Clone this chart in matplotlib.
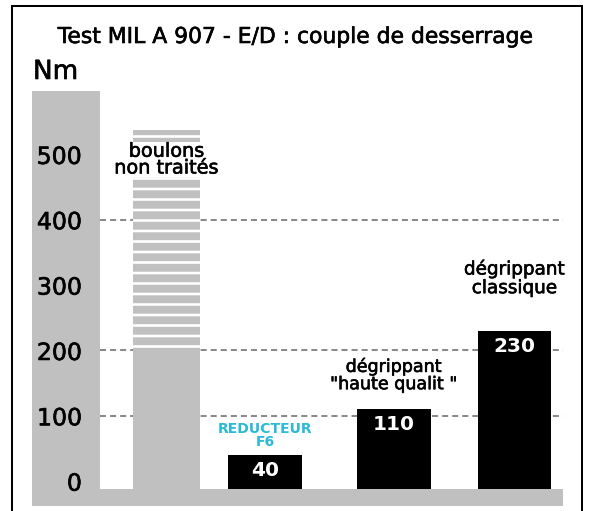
import matplotlib
matplotlib.use('Agg')
import matplotlib.pyplot as plt
import matplotlib.patheffects as pe
from matplotlib.patches import Rectangle
import numpy as np

# data
categories = ['boulons\nnon traités', 'REDUCTEUR\nF6', 'dégrippant\n"haute qualit "', 'dégrippant\nclassique']
values = [200, 40, 110, 230]          # boulons: solid part (200), striped up to ~537
boulons_top = 537
bar_labels = ['', '40', '110', '230']
yticks = [0, 100, 200, 300, 400, 500]
grid_levels = [100, 200, 400]

# layout
x_pos = np.array([0, 0.849, 1.961, 2.998])
widths = [0.58, 0.64, 0.64, 0.63]
base = -12
GRAY = '#c0c0c0'
CYAN = '#2bbad8'
DPI = 63

plt.rcParams['font.family'] = ['DejaVu Sans']
plt.rcParams['hatch.linewidth'] = 9

thick = [pe.withStroke(linewidth=0.7, foreground='black')]

fig = plt.figure(figsize=(590 / DPI, 511 / DPI), dpi=DPI)
ax = fig.add_axes([32 / 590, 5 / 511, (563 - 32) / 590, (506 - 91) / 511])
ax.set_xlim(-1.159, 3.418)
ax.set_ylim(-38, 597)

# grey axis column and bottom band
ax.axvspan(-1.159, -0.573, color=GRAY, lw=0, zorder=0)
ax.axhspan(-38, base, color=GRAY, lw=0, zorder=0)

# dashed reference lines
ax.hlines(grid_levels, -0.573, 3.418, colors='#8a8a8a', linestyles=(0, (3, 2)), lw=2.3, zorder=0.5)

# bars
vals = np.array(values)
ax.bar(x_pos[0], vals[0] - base, bottom=base, width=widths[0], color=GRAY, lw=0, zorder=2)
ax.bar(x_pos[0], boulons_top - vals[0], bottom=vals[0], width=widths[0], color='white',
       edgecolor=GRAY, hatch='-', lw=0, zorder=2)
ax.bar(x_pos[1:], vals[1:] - base, bottom=base, width=widths[1:], color='black', lw=0, zorder=2)

# value labels inside black bars
for xp, v, lab in zip(x_pos[1:], vals[1:], bar_labels[1:]):
    ax.text(xp, v - 9, lab, ha='center', va='top', color='white', fontsize=23, fontweight='bold', zorder=3)

# category labels
ax.text(x_pos[0], 492, categories[0], ha='center', va='center', fontsize=22, linespacing=0.85,
        zorder=3, path_effects=thick, bbox=dict(facecolor='white', edgecolor='none', pad=0))
ax.text(x_pos[1], 70, categories[1], ha='center', va='center', fontsize=16, fontweight='bold',
        color=CYAN, linespacing=0.85, zorder=3)
ax.text(x_pos[2], 162, categories[2], ha='center', va='center', fontsize=20, linespacing=0.95,
        zorder=3, path_effects=thick)
ax.text(x_pos[3], 310, categories[3], ha='center', va='center', fontsize=21, linespacing=1.05,
        zorder=3, path_effects=thick)

# axis
ax.set_yticks(yticks)
ax.set_yticklabels([str(t) for t in yticks])
ax.tick_params(axis='y', length=0, pad=-57, labelsize=27)
for t in ax.get_yticklabels():
    t.set_path_effects(thick)
ax.set_xticks([])
for s in ax.spines.values():
    s.set_visible(False)

fig.text(296 / 590, 1 - 37 / 511, 'Test MIL A 907 - E/D : couple de desserrage',
         ha='center', va='center', fontsize=25, path_effects=thick)
fig.text(33 / 590, 1 - 72 / 511, 'Nm', ha='left', va='center', fontsize=30, path_effects=thick)

# outer frame
fig.add_artist(Rectangle((12 / 590, -0.05), (582 - 12) / 590, 1.05 - 6 / 511,
                         transform=fig.transFigure, fill=False, lw=2.3, ec='black'))

fig.savefig('out.png', dpi=DPI)
